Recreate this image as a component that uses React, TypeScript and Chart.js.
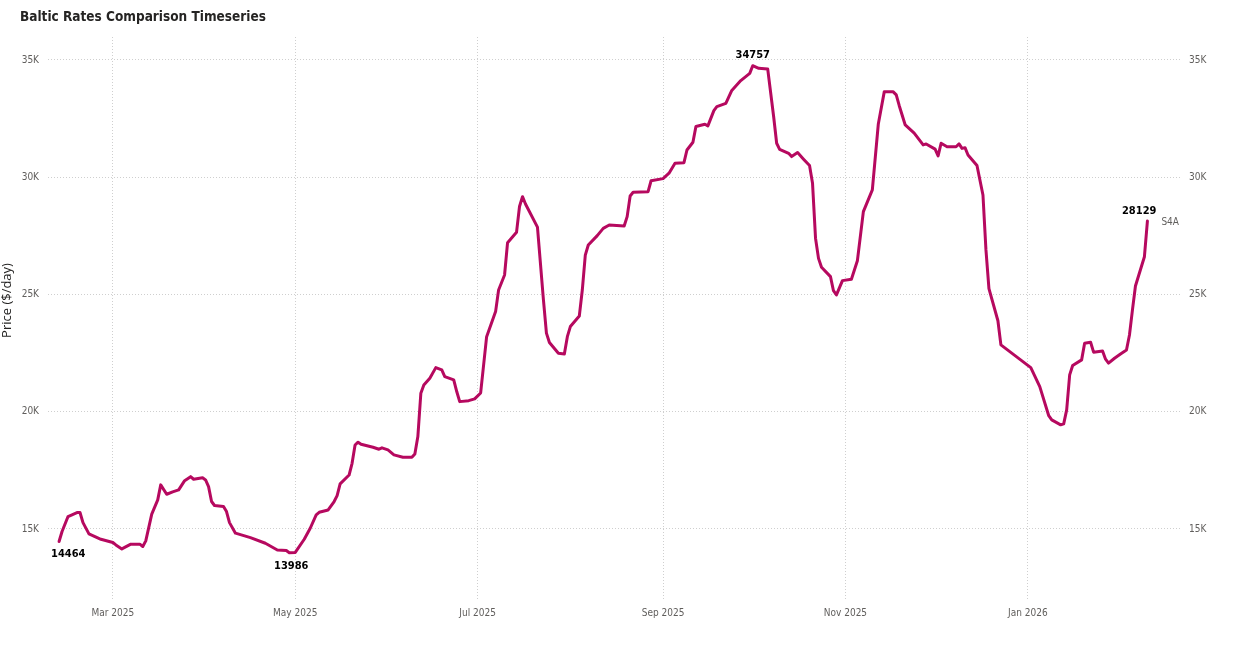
import React, { useEffect, useRef } from "react";
import { Chart, registerables } from "chart.js";

Chart.register(...registerables);

const chartTitle = "Baltic Rates Comparison Timeseries";
const yAxisTitle = "Price ($/day)";
const seriesName = "S4A";

const dates: string[] = [
  "2025-02-11", "2025-02-12", "2025-02-14", "2025-02-17", "2025-02-18", "2025-02-19", "2025-02-21", "2025-02-25",
  "2025-03-01", "2025-03-02", "2025-03-04", "2025-03-07", "2025-03-10", "2025-03-11", "2025-03-12", "2025-03-14", "2025-03-16", "2025-03-17", "2025-03-19", "2025-03-21", "2025-03-23", "2025-03-25", "2025-03-27", "2025-03-28", "2025-03-31",
  "2025-04-01", "2025-04-02", "2025-04-03", "2025-04-04", "2025-04-07", "2025-04-08", "2025-04-09", "2025-04-11", "2025-04-16", "2025-04-21", "2025-04-25", "2025-04-28", "2025-04-29",
  "2025-05-01", "2025-05-04", "2025-05-06", "2025-05-08", "2025-05-09", "2025-05-12", "2025-05-14", "2025-05-15", "2025-05-16", "2025-05-19", "2025-05-20", "2025-05-21", "2025-05-22", "2025-05-23", "2025-05-27", "2025-05-29", "2025-05-30",
  "2025-06-01", "2025-06-03", "2025-06-06", "2025-06-09", "2025-06-10", "2025-06-11", "2025-06-12", "2025-06-13", "2025-06-15", "2025-06-17", "2025-06-19", "2025-06-20", "2025-06-23", "2025-06-24", "2025-06-25", "2025-06-28", "2025-06-30",
  "2025-07-02", "2025-07-04", "2025-07-07", "2025-07-08", "2025-07-10", "2025-07-11", "2025-07-14", "2025-07-15", "2025-07-16", "2025-07-17", "2025-07-21", "2025-07-23", "2025-07-24", "2025-07-25", "2025-07-28", "2025-07-30", "2025-07-31",
  "2025-08-01", "2025-08-04", "2025-08-05", "2025-08-06", "2025-08-07", "2025-08-10", "2025-08-12", "2025-08-14", "2025-08-19", "2025-08-20", "2025-08-21", "2025-08-22", "2025-08-27", "2025-08-28",
  "2025-09-01", "2025-09-03", "2025-09-05", "2025-09-08", "2025-09-09", "2025-09-11", "2025-09-12", "2025-09-15", "2025-09-16", "2025-09-18", "2025-09-19", "2025-09-22", "2025-09-24", "2025-09-27", "2025-09-30",
  "2025-10-01", "2025-10-03", "2025-10-06", "2025-10-08", "2025-10-09", "2025-10-10", "2025-10-13", "2025-10-14", "2025-10-16", "2025-10-18", "2025-10-20", "2025-10-21", "2025-10-22", "2025-10-23", "2025-10-24", "2025-10-27", "2025-10-28", "2025-10-29", "2025-10-31",
  "2025-11-03", "2025-11-05", "2025-11-07", "2025-11-10", "2025-11-12", "2025-11-14", "2025-11-17", "2025-11-18", "2025-11-19", "2025-11-21", "2025-11-24", "2025-11-27", "2025-11-28",
  "2025-12-01", "2025-12-02", "2025-12-03", "2025-12-05", "2025-12-08", "2025-12-09", "2025-12-10", "2025-12-11", "2025-12-12", "2025-12-15", "2025-12-17", "2025-12-18", "2025-12-19", "2025-12-22", "2025-12-23",
  "2026-01-02", "2026-01-05", "2026-01-08", "2026-01-09", "2026-01-12", "2026-01-13", "2026-01-14", "2026-01-15", "2026-01-16", "2026-01-19", "2026-01-20", "2026-01-22", "2026-01-23", "2026-01-26", "2026-01-27", "2026-01-28", "2026-01-30",
  "2026-02-01", "2026-02-03", "2026-02-04", "2026-02-05", "2026-02-06", "2026-02-09", "2026-02-10",
];

const s4aRates: number[] = [
  14464, 14890, 15530, 15700, 15700, 15270, 14790, 14560,
  14420, 14320, 14150, 14350, 14350, 14250, 14490, 15630, 16240, 16880, 16480, 16580, 16665, 17060, 17230, 17120, 17180,
  17090, 16805, 16170, 16000, 15955, 15740, 15270, 14820, 14630, 14390, 14105, 14080, 13986,
  14000, 14560, 15030, 15600, 15710, 15810, 16170, 16420, 16920, 17300, 17800, 18580, 18700, 18610, 18485, 18400, 18460,
  18370, 18160, 18060, 18060, 18200, 18940, 20790, 21140, 21430, 21880, 21780, 21500, 21360, 20860, 20430, 20470, 20550,
  20800, 23200, 24270, 25190, 25830, 27210, 27650, 28750, 29170, 28860, 27870, 24770, 23350, 22950, 22490, 22460, 23200,
  23630, 24080, 25190, 26680, 27110, 27510, 27820, 27960, 27920, 28320, 29200, 29360, 29385, 29850,
  29940, 30170, 30600, 30620, 31160, 31490, 32160, 32260, 32190, 32840, 33010, 33150, 33700, 34120, 34430,
  34757, 34645, 34620, 32580, 31450, 31190, 31020, 30880, 31050, 30770, 30500, 29740, 27400, 26540, 26160, 25760, 25160, 24980, 25590,
  25650, 26440, 28530, 29460, 32270, 33650, 33640, 33510, 33050, 32230, 31880, 31380, 31420,
  31200, 30910, 31450, 31300, 31300, 31420, 31230, 31260, 30950, 30500, 29240, 26900, 25250, 23880, 22850,
  21880, 21070, 19830, 19650, 19440, 19480, 20080, 21570, 21970, 22210, 22920, 22960, 22540, 22590, 22240, 22070, 22280,
  22460, 22630, 23270, 24340, 25360, 26610, 28129,
];

const xTickDates: string[] = ["2025-03-01", "2025-05-01", "2025-07-01", "2025-09-01", "2025-11-01", "2026-01-01"];
const xTickLabels: string[] = ["Mar 2025", "May 2025", "Jul 2025", "Sep 2025", "Nov 2025", "Jan 2026"];
const yTickValues: number[] = [15000, 20000, 25000, 30000, 35000];

const DAY_MS = 86400000;
const BASE_MS = Date.UTC(2025, 2, 1);
const toDay = (s: string) => (Date.parse(s + "T00:00:00Z") - BASE_MS) / DAY_MS;

const FONT = '"DejaVu Sans Condensed", "DejaVu Sans", sans-serif';
const LINE_COLOR = "#B6095F";
const GRID_COLOR = "#CFCFCF";
const TICK_COLOR = "#605E5C";

const overlayPlugin = {
  id: "overlay",
  afterDatasetsDraw(chart: any) {
    const ctx = chart.ctx;
    const pts = chart.getDatasetMeta(0).data;
    const n = s4aRates.length;
    let iMin = 0;
    let iMax = 0;
    s4aRates.forEach((v, i) => {
      if (v < s4aRates[iMin]) iMin = i;
      if (v > s4aRates[iMax]) iMax = i;
    });
    const labels = [
      { i: 0, align: "left", dx: -8, dy: 13 },
      { i: iMin, align: "center", dx: 2, dy: 13 },
      { i: iMax, align: "center", dx: 0, dy: -11 },
      { i: n - 1, align: "right", dx: 9, dy: -10 },
    ];
    ctx.save();
    ctx.font = `bold 11px ${FONT}`;
    ctx.fillStyle = "#000000";
    ctx.textBaseline = "middle";
    labels.forEach((l) => {
      const p = pts[l.i];
      ctx.textAlign = l.align;
      ctx.fillText(String(s4aRates[l.i]), p.x + l.dx, p.y + l.dy);
    });
    const last = pts[n - 1];
    ctx.font = `10px ${FONT}`;
    ctx.fillStyle = TICK_COLOR;
    ctx.textAlign = "left";
    ctx.fillText(seriesName, last.x + 14, last.y + 1.5);
    ctx.restore();
  },
  afterDraw(chart: any) {
    const ctx = chart.ctx;
    ctx.save();
    ctx.font = `bold 13.5px ${FONT}`;
    ctx.fillStyle = "#252423";
    ctx.textAlign = "left";
    ctx.textBaseline = "alphabetic";
    ctx.fillText(chartTitle, 20, 21);
    const ca = chart.chartArea;
    ctx.translate(7, (ca.top + ca.bottom) / 2 - 18);
    ctx.rotate(-Math.PI / 2);
    ctx.font = `13px "Open Sans", "Noto Sans", sans-serif`;
    ctx.textAlign = "center";
    ctx.textBaseline = "middle";
    ctx.fillText(yAxisTitle, 0, 0);
    ctx.restore();
  },
};

export default function App() {
  const canvasRef = useRef<HTMLCanvasElement | null>(null);

  useEffect(() => {
    document.body.style.margin = "0";
    const canvas = canvasRef.current;
    if (!canvas) return;
    const xTickDays = xTickDates.map(toDay);
    const yScaleCommon = {
      type: "linear" as const,
      min: 11970,
      max: 35980,
      afterBuildTicks: (s: any) => {
        s.ticks = yTickValues.map((v) => ({ value: v }));
      },
    };
    const chart = new Chart(canvas, {
      type: "line",
      data: {
        datasets: [
          {
            label: seriesName,
            data: dates.map((d, i) => ({ x: toDay(d), y: s4aRates[i] })),
            borderColor: LINE_COLOR,
            backgroundColor: LINE_COLOR,
            borderWidth: 3,
            pointRadius: 0,
            tension: 0,
            fill: false,
            borderJoinStyle: "round",
            borderCapStyle: "round",
            yAxisID: "y",
          },
        ],
      },
      options: {
        animation: false,
        responsive: false,
        maintainAspectRatio: false,
        layout: { padding: { top: 37, left: 0, right: 0, bottom: 0 } },
        plugins: {
          legend: { display: false },
          title: { display: false },
          tooltip: { enabled: false },
        },
        scales: {
          x: {
            type: "linear",
            min: -21.7,
            max: 356.9,
            grid: { color: GRID_COLOR, lineWidth: 1, drawTicks: false },
            border: { display: false, dash: [1, 2] },
            afterBuildTicks: (s: any) => {
              s.ticks = xTickDays.map((v) => ({ value: v }));
            },
            afterFit: (s: any) => {
              s.height = 64;
            },
            ticks: {
              autoSkip: false,
              maxRotation: 0,
              padding: 7,
              color: TICK_COLOR,
              font: { family: FONT, size: 10 },
              callback: (_v: any, i: number) => xTickLabels[i],
            },
          },
          y: {
            ...yScaleCommon,
            position: "left",
            grid: { color: GRID_COLOR, lineWidth: 1, drawTicks: false },
            border: { display: false, dash: [1, 2] },
            afterFit: (s: any) => {
              s.width = 48;
            },
            ticks: {
              padding: 9,
              color: TICK_COLOR,
              font: { family: FONT, size: 10 },
              callback: (v: any) => `${Number(v) / 1000}K`,
            },
          },
          y2: {
            ...yScaleCommon,
            position: "right",
            grid: { display: false, drawTicks: false },
            border: { display: false },
            afterFit: (s: any) => {
              s.width = 56;
            },
            ticks: {
              padding: 9,
              color: TICK_COLOR,
              font: { family: FONT, size: 10 },
              callback: (v: any) => `${Number(v) / 1000}K`,
            },
          },
        },
      },
      plugins: [overlayPlugin],
    } as any);
    return () => chart.destroy();
  }, []);

  return (
    <div style={{ position: "absolute", left: 0, top: 0, width: 1236, height: 664, background: "#ffffff" }}>
      <canvas ref={canvasRef} width={1236} height={664} style={{ display: "block" }} />
    </div>
  );
}
